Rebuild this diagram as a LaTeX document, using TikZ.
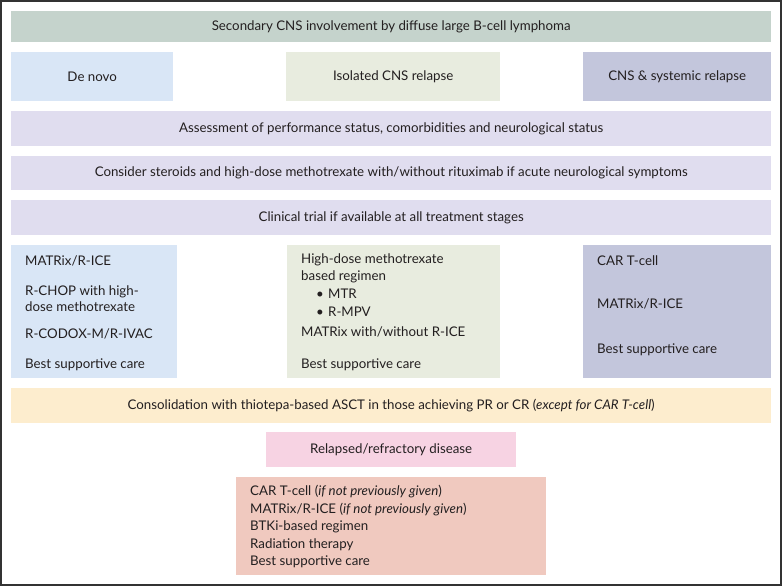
\documentclass[tikz,border=0pt]{standalone}
\usepackage{fontspec}
\setmainfont{Lato}
\usetikzlibrary{positioning}
\definecolor{col_title}{HTML}{C5D3CC}
\definecolor{col_blue}{HTML}{D9E6F6}
\definecolor{col_sage}{HTML}{E8ECDF}
\definecolor{col_slate}{HTML}{C3C6DC}
\definecolor{col_lilac}{HTML}{E0DDEF}
\definecolor{col_sand}{HTML}{FDEDCE}
\definecolor{col_pink}{HTML}{F7D3E3}
\definecolor{col_salmon}{HTML}{F0C9BF}
\definecolor{col_text}{HTML}{231F20}
\definecolor{col_frame}{HTML}{333333}
\tikzset{
        % Coloured boxes
        box/.style={rectangle, inner sep=0pt, anchor=north west, align=center, text=col_text,
                font=\fontsize{13.3}{16}\selectfont},
        % Full width boxes
        box_wide/.style={box, minimum width=760pt},
        % Text lines inside the treatment boxes
        item/.style={anchor=base west, inner sep=0pt, text=col_text,
                font=\fontsize{13.3}{16}\selectfont}
}
\begin{document}
\begin{tikzpicture}[x=1pt, y=-1pt]
            \useasboundingbox (0,0) rectangle (782,586);
            \draw[col_frame, line width=2pt] (1,1) rectangle (781,585);
            % header and patient groups
            \node[box_wide, fill=col_title, minimum height=31pt] (title) at (11,11)
                {Secondary CNS involvement by diffuse large B-cell lymphoma};
            \node[box, fill=col_blue, minimum width=162pt, minimum height=49pt] (denovo) at (11,52) {De novo};
            \node[box, fill=col_sage, minimum width=214pt, minimum height=49pt] (isolated) at (286,52) {Isolated CNS relapse};
            \node[box, fill=col_slate, minimum width=188pt, minimum height=49pt] (systemic) at (583,52) {CNS \& systemic relapse};
            % general steps
            \node[box_wide, fill=col_lilac, minimum height=35pt] (assess) at (11,111)
                {Assessment of performance status, comorbidities and neurological status};
            \node[box_wide, fill=col_lilac, minimum height=34pt] (steroids) at (11,156)
                {Consider steroids and high-dose methotrexate with/without rituximab if acute neurological symptoms};
            \node[box_wide, fill=col_lilac, minimum height=35pt] (trial) at (11,200)
                {Clinical trial if available at all treatment stages};
            % treatment options
            \node[box, fill=col_blue, minimum width=166pt, minimum height=133pt] (treat_denovo) at (11,245) {};
            \node[box, fill=col_sage, minimum width=213pt, minimum height=133pt] (treat_isolated) at (287,245) {};
            \node[box, fill=col_slate, minimum width=188pt, minimum height=133pt] (treat_systemic) at (583,245) {};
            \node[item] (dn1) at (25,265) {MATRix/R-ICE};
            \node[item] (dn2) at (25,295) {R-CHOP with high-};
            \node[item] (dn3) at (25,311.5) {dose methotrexate};
            \node[item] (dn4) at (25,338.5) {R-CODOX-M/R-IVAC};
            \node[item] (dn5) at (25,368.5) {Best supportive care};
            \node[item] (is1) at (301,263.5) {High-dose methotrexate};
            \node[item] (is2) at (301,280.5) {based regimen};
            \node[item] (is3b) at (316,298.5) {•};
            \node[item] (is3) at (328,298.5) {MTR};
            \node[item] (is4b) at (316,316.5) {•};
            \node[item] (is4) at (328,316.5) {R-MPV};
            \node[item] (is5) at (301,336.5) {MATRix with/without R-ICE};
            \node[item] (is6) at (301,368.5) {Best supportive care};
            \node[item] (sy1) at (597,265.5) {CAR T-cell};
            \node[item] (sy2) at (597,308.5) {MATRix/R-ICE};
            \node[item] (sy3) at (597,353.5) {Best supportive care};
            % consolidation and relapse
            \node[box_wide, fill=col_sand, minimum height=35pt] (consol) at (11,388)
                {Consolidation with thiotepa-based ASCT in those achieving PR or CR (\textit{except for CAR T-cell})};
            \node[box, fill=col_pink, minimum width=250pt, minimum height=35pt] (relapsed) at (266,432) {Relapsed/refractory disease};
            \node[box, fill=col_salmon, minimum width=310pt, minimum height=98pt] (salvage) at (236,477) {};
            \node[item] (sv1) at (250,495.5) {CAR T-cell (\textit{if not previously given})};
            \node[item] (sv2) at (250,513) {MATRix/R-ICE (\textit{if not previously given})};
            \node[item] (sv3) at (250,530.5) {BTKi-based regimen};
            \node[item] (sv4) at (250,548) {Radiation therapy};
            \node[item] (sv5) at (250,565.5) {Best supportive care};
\end{tikzpicture}
\end{document}
